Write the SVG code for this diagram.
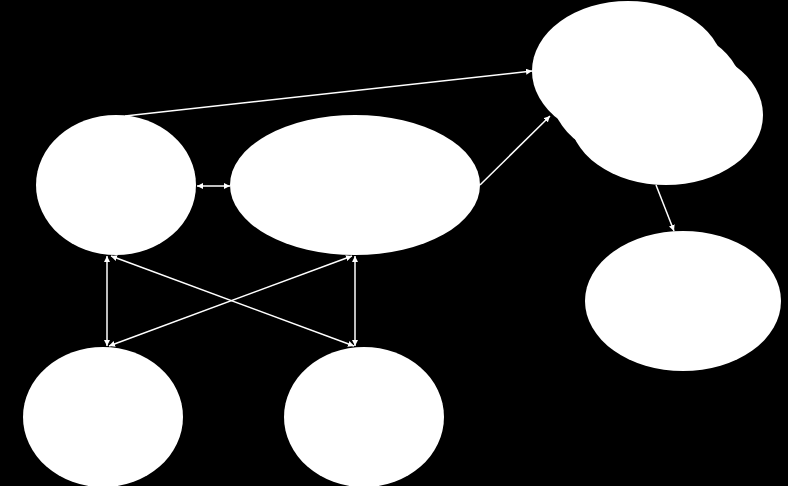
<svg xmlns="http://www.w3.org/2000/svg" width="788" height="486" viewBox="0 0 788 486">
<style>
.n{fill:#fff;stroke:none}
.c{stroke:#fff;stroke-width:1.5;fill:none}
</style>
<defs>
<marker id="ah" viewBox="0 0 10 10" refX="10" refY="5" markerWidth="6" markerHeight="6" orient="auto-start-reverse" markerUnits="userSpaceOnUse">
<path d="M0,0 L10,5 L0,10 z" fill="#fff"/>
</marker>
</defs>
<rect width="788" height="486" fill="#000"/>
<g id="nodeA"><ellipse class="n" cx="116" cy="185" rx="80" ry="70"/></g>
<g id="nodeB"><ellipse class="n" cx="355" cy="185" rx="125" ry="70"/></g>
<g id="nodeC"><ellipse class="n" cx="103" cy="417" rx="80" ry="70"/></g>
<g id="nodeD"><ellipse class="n" cx="364" cy="417" rx="80" ry="70"/></g>
<g id="nodeE"><ellipse class="n" cx="683" cy="301" rx="98" ry="70"/></g>
<g id="nodeStack">
<ellipse class="n" cx="628" cy="71" rx="96" ry="70"/>
<ellipse class="n" cx="647" cy="93" rx="96" ry="70"/>
<ellipse class="n" cx="666" cy="115" rx="97" ry="70"/>
</g>
<g id="connectors">
<line class="c" x1="125" y1="116" x2="532" y2="71" marker-end="url(#ah)"/>
<line class="c" x1="197" y1="186" x2="230" y2="186" marker-start="url(#ah)" marker-end="url(#ah)"/>
<line class="c" x1="480" y1="185" x2="550" y2="116" marker-end="url(#ah)"/>
<line class="c" x1="656" y1="185" x2="674" y2="231" marker-end="url(#ah)"/>
<line class="c" x1="107" y1="256" x2="107" y2="346" marker-start="url(#ah)" marker-end="url(#ah)"/>
<line class="c" x1="355" y1="256" x2="355" y2="346" marker-start="url(#ah)" marker-end="url(#ah)"/>
<line class="c" x1="111" y1="256" x2="354" y2="346" marker-start="url(#ah)" marker-end="url(#ah)"/>
<line class="c" x1="352" y1="256" x2="109" y2="346" marker-start="url(#ah)" marker-end="url(#ah)"/>
</g>
</svg>
